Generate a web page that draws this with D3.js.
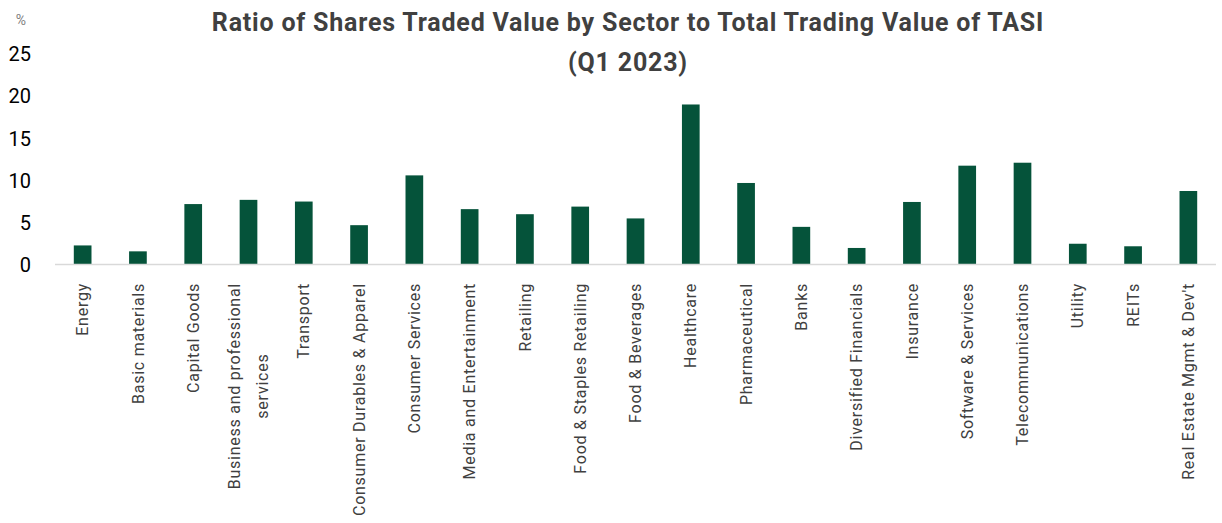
<!DOCTYPE html>
<html>
<head>
<meta charset="utf-8">
<script src="https://cdn.jsdelivr.net/npm/d3@7"></script>
<style>
  body { margin: 0; background: #fff; }
  text { font-family: Roboto, "DejaVu Sans", sans-serif; }
</style>
</head>
<body>
<svg id="chart"></svg>
<script>
// data
let sectors = [
  "Energy", "Basic materials", "Capital Goods", "Business and professional services",
  "Transport", "Consumer Durables & Apparel", "Consumer Services", "Media and Entertainment",
  "Retailing", "Food & Staples Retailing", "Food & Beverages", "Healthcare",
  "Pharmaceutical", "Banks", "Diversified Financials", "Insurance",
  "Software & Services", "Telecommunications", "Utility", "REITs", "Real Estate Mgmt & Dev't"
];
let ratios = [2.2, 1.5, 7.1, 7.6, 7.4, 4.6, 10.5, 6.5, 5.9, 6.8, 5.4, 18.9,
  9.6, 4.4, 1.9, 7.35, 11.65, 12.0, 2.4, 2.1, 8.65];
let yTicks = [0, 5, 10, 15, 20, 25];
let titleLines = ["Ratio of Shares Traded Value by Sector to Total Trading Value of TASI", "(Q1 2023)"];

// label wrapping like the original (only one label wraps)
let labelLines = {
  "Business and professional services": ["Business and professional", "services"]
};

let widthSVG = 1222;
let heightSVG = 523;
let margins = { top: 53, left: 55, right: 6 };
let baseY = 264;

let SVG = d3.select('svg#chart')
  .attr('width', widthSVG)
  .attr('height', heightSVG);

// scales
let x = d3.scaleBand()
  .domain(sectors)
  .range([margins.left, widthSVG - margins.right])
  .paddingInner(0.68)
  .paddingOuter(0.34);

let y = d3.scaleLinear()
  .domain([0, 25])
  .range([baseY, margins.top]);

// title
SVG.append('g').selectAll('text')
  .data(titleLines)
  .enter()
  .append('text')
  .attr('x', 628)
  .attr('y', (d, i) => 31 + i * 40)
  .attr('text-anchor', 'middle')
  .style('font-size', '25px')
  .style('font-weight', '700')
  .style('letter-spacing', '0.8px')
  .style('fill', '#404040')
  .text(d => d);

// unit label
SVG.append('text')
  .attr('x', 21)
  .attr('y', 25)
  .attr('text-anchor', 'middle')
  .style('font-size', '14px')
  .style('fill', '#808080')
  .text('%');

// y axis labels, no line
let yAxis = d3.axisLeft(y)
  .tickValues(yTicks)
  .tickSize(0)
  .tickPadding(0);

let yAxisG = SVG.append('g')
  .attr('transform', 'translate(31, 0)')
  .call(yAxis);
yAxisG.select('.domain').remove();
yAxisG.selectAll('text')
  .style('font-family', 'Roboto, sans-serif')
  .style('font-size', '20px')
  .style('fill', '#000')
  .attr('dy', '0.38em');

// bars
SVG.append('g').selectAll('rect')
  .data(ratios)
  .enter()
  .append('rect')
  .attr('x', (d, i) => x(sectors[i]))
  .attr('width', x.bandwidth())
  .attr('y', d => y(d))
  .attr('height', d => baseY - y(d))
  .style('fill', '#05533a');

// baseline
SVG.append('line')
  .attr('x1', margins.left)
  .attr('x2', widthSVG - margins.right)
  .attr('y1', baseY + 0.5)
  .attr('y2', baseY + 0.5)
  .style('stroke', '#d9d9d9')
  .style('stroke-width', '1.5px');

// category labels, rotated
let labelTop = 283;
let labelGs = SVG.append('g').selectAll('g')
  .data(sectors)
  .enter()
  .append('g')
  .attr('transform', d => `translate(${x(d) + x.bandwidth() / 2}, ${labelTop}) rotate(-90)`);

labelGs.each(function(d) {
  let g = d3.select(this);
  let lines = labelLines[d] || [d];
  let texts = g.selectAll('text')
    .data(lines)
    .enter()
    .append('text')
    .attr('dy', '0.35em')
    .style('font-size', '16px')
    .style('letter-spacing', '0.75px')
    .style('fill', '#404040')
    .text(t => t);
  if (lines.length === 1) {
    texts.attr('text-anchor', 'end');
  } else {
    // block is centred on the band, lines centred on the first line
    let w0 = texts.nodes()[0].getComputedTextLength();
    let gap = 28;
    texts
      .attr('text-anchor', 'middle')
      .attr('x', -w0 / 2)
      .attr('y', (t, i) => (i - (lines.length - 1) / 2) * gap);
  }
});
</script>
</body>
</html>
